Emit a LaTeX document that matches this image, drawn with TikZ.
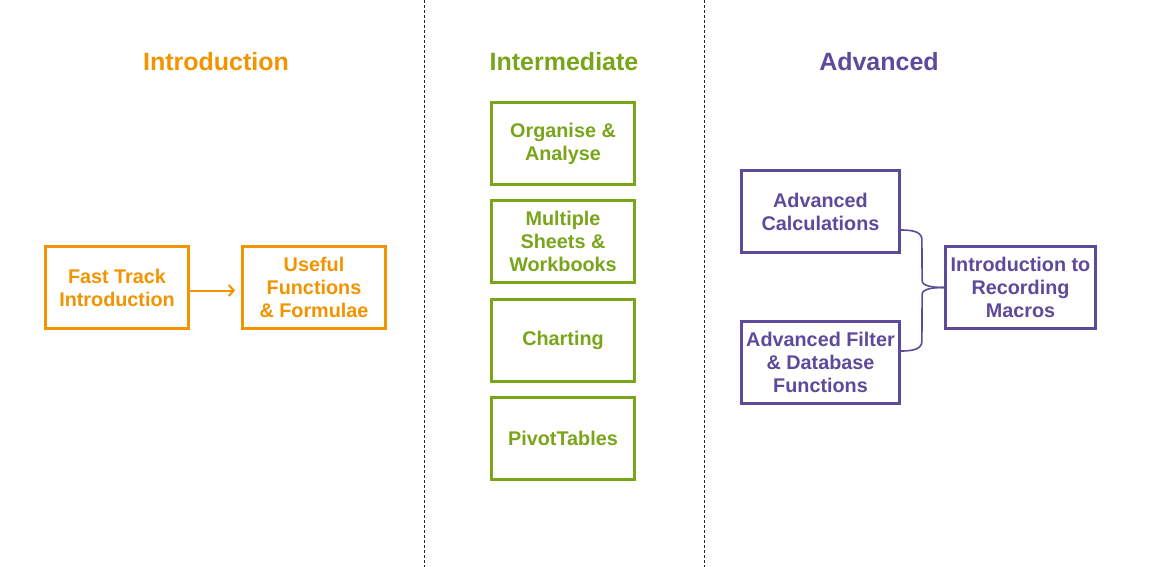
\documentclass[tikz,border=0pt]{standalone}
\usepackage{fontspec}
\setmainfont{Liberation Sans}
\usetikzlibrary{arrows.meta,calc}
\definecolor{cOrange}{RGB}{242,148,0}
\definecolor{cGreen}{RGB}{122,164,26}
\definecolor{cPurple}{RGB}{94,74,154}
\tikzset{
  heading/.style={font=\fontsize{25}{29}\selectfont\bfseries, inner sep=0pt},
  box/.style={draw, line width=2.8pt, minimum width=143pt, minimum height=82pt,
    inner sep=0pt, align=center, font=\fontsize{19.8}{23}\selectfont\bfseries},
  pbox/.style={box, minimum width=158pt},
  divider/.style={draw=black!85, line width=0.8pt, dash pattern=on 3pt off 2pt},
  brace/.style={draw=cPurple, line width=1.6pt},
}
\begin{document}
\begin{tikzpicture}[x=1pt,y=-1pt]
\useasboundingbox (0,0) rectangle (1152,567);
\fill[white] (0,0) rectangle (1152,567);
\draw[divider] (424,0) -- (424,567);
\draw[divider] (704,0) -- (704,567);

\node[heading, text=cOrange] (h1) at (216,62) {Introduction};
\node[heading, text=cGreen] (h2) at (564,62) {Intermediate};
\node[heading, text=cPurple] (h3) at (879,62) {Advanced};

\node[box, draw=cOrange, text=cOrange] (ft) at (117,287.5) {Fast Track\\Introduction};
\node[box, draw=cOrange, text=cOrange] (uf) at (314,287.5) {Useful\\Functions\\\& Formulae};
\draw[draw=cOrange, line width=2pt, -{Straight Barb[length=5pt,width=11pt]}, shorten >=6pt] ([yshift=-3pt]ft.east) -- ([yshift=-3pt]uf.west);

\node[box, draw=cGreen, text=cGreen] (oa) at (563,143.5) {Organise \&\\Analyse};
\node[box, draw=cGreen, text=cGreen] (ms) at (563,241.5) {Multiple\\Sheets \&\\Workbooks};
\node[box, draw=cGreen, text=cGreen] (ch) at (563,340.5) {Charting};
\node[box, draw=cGreen, text=cGreen] (pt) at (563,438.5) {PivotTables};

\node[pbox, draw=cPurple, text=cPurple] (ac) at (820.5,211.5) {Advanced\\Calculations};
\node[pbox, draw=cPurple, text=cPurple] (af) at (820.5,362.5) {Advanced Filter\\\& Database\\Functions};
\node[box, minimum width=150pt, draw=cPurple, text=cPurple] (ir) at (1020.5,287.5) {Introduction to\\Recording\\Macros};

\coordinate (b1) at ([yshift=-18.5pt]ac.east);
\coordinate (b2) at ([yshift=11.5pt]af.east);
\draw[brace] (b1) .. controls ($(b1)+(15,0)$) and ($(b1)+(21,3)$) .. ($(b1)+(21,10)$)
  -- ($(ir.west)+(-22,-7)$) .. controls ($(ir.west)+(-22,-1)$) and ($(ir.west)+(-10,0)$) .. (ir.west);
\draw[brace] (b2) .. controls ($(b2)+(15,0)$) and ($(b2)+(21,-3)$) .. ($(b2)+(21,-10)$)
  -- ($(ir.west)+(-22,7)$) .. controls ($(ir.west)+(-22,1)$) and ($(ir.west)+(-10,0)$) .. (ir.west);
\end{tikzpicture}
\end{document}
